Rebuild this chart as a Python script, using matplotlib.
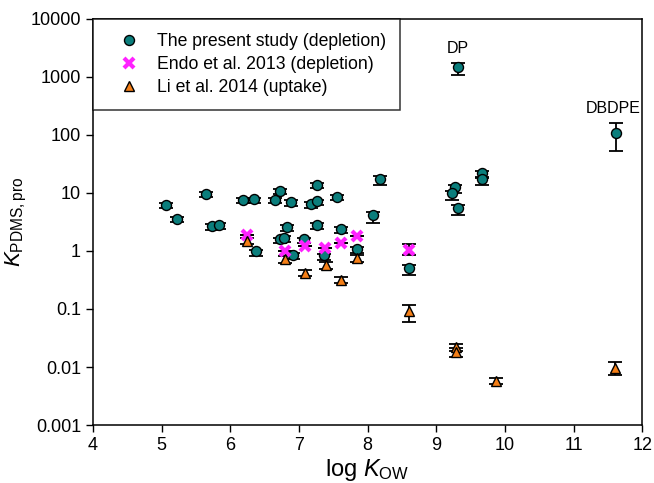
import numpy as np
import matplotlib
matplotlib.use('Agg')
import matplotlib.pyplot as plt
from matplotlib.ticker import FixedLocator, FixedFormatter, NullLocator

plt.rcParams['font.family'] = ['Liberation Sans', 'DejaVu Sans']
plt.rcParams['mathtext.fontset'] = 'custom'
plt.rcParams['mathtext.rm'] = 'Liberation Sans'
plt.rcParams['mathtext.it'] = 'Liberation Sans:italic'

# dane
teal_x = [5.07, 5.23, 5.65, 5.74, 5.83, 6.19, 6.35, 6.65, 6.73, 6.88, 6.82, 6.73,
          6.79, 6.37, 6.91, 7.26, 7.17, 7.26, 7.55, 8.18, 8.08, 7.26, 7.62, 7.08,
          7.36, 7.85, 8.61, 9.31, 11.62, 9.66, 9.66, 9.28, 9.23, 9.31]
teal_y = [6.3, 3.6, 9.6, 2.7, 2.8, 7.6, 7.8, 7.6, 10.8, 7.0, 2.6, 1.6,
          1.7, 0.98, 0.85, 13.8, 6.5, 7.2, 8.6, 17.2, 4.2, 2.8, 2.4, 1.6,
          0.84, 1.07, 0.50, 1500, 107, 22, 17.5, 12.5, 10.0, 5.6]
teal_lo = [0.8, 0.5, 1.2, 0.4, 0.4, 1.0, 1.0, 1.0, 1.4, 1.0, 0.4, 0.25,
           0.25, 0.15, 0.13, 1.8, 0.9, 1.0, 1.1, 3.5, 1.2, 0.4, 0.35, 0.25,
           0.13, 0.16, 0.12, 420, 55, 4.0, 4.0, 2.5, 2.5, 1.5]
teal_hi = [0.4, 0.3, 0.6, 0.2, 0.2, 0.5, 0.5, 0.5, 0.7, 0.5, 0.2, 0.1,
           0.1, 0.07, 0.06, 0.9, 0.5, 0.5, 0.6, 2.0, 0.5, 0.2, 0.2, 0.1,
           0.06, 0.08, 0.08, 250, 55, 1.5, 1.5, 1.0, 1.0, 0.6]

endo_x = [6.24, 6.80, 7.09, 7.38, 7.62, 7.85, 8.61]
endo_y = [1.9, 1.0, 1.23, 1.12, 1.35, 1.8, 1.05]
endo_lo = [0.0, 0.0, 0.0, 0.0, 0.0, 0.0, 0.2]
endo_hi = [0.0, 0.0, 0.0, 0.0, 0.0, 0.0, 0.25]

li_x = [6.24, 6.80, 7.09, 7.39, 7.62, 7.85, 8.61, 9.29, 9.29, 9.87, 11.61]
li_y = [1.5, 0.72, 0.42, 0.57, 0.32, 0.75, 0.092, 0.022, 0.018, 0.0058, 0.0098]
li_lo = [0.2, 0.1, 0.05, 0.08, 0.04, 0.1, 0.032, 0.003, 0.003, 0.0007, 0.0025]
li_hi = [0.2, 0.1, 0.05, 0.08, 0.04, 0.1, 0.027, 0.003, 0.003, 0.0007, 0.0025]

etykiety = [('DP', 9.31, 3100), ('DBDPE', 11.57, 290)]

fig = plt.figure(figsize=(6.54, 4.83), dpi=100)
ax = fig.add_axes([0.142, 0.12, 0.840, 0.841])

kolor_teal = '#0b7e7c'
kolor_mag = '#ff22ff'
kolor_pom = '#f57f17'

ax.errorbar(teal_x, teal_y, yerr=[teal_lo, teal_hi], fmt='none', ecolor='black',
            elinewidth=1.3, capsize=5, capthick=1.3, zorder=2)
ax.errorbar(endo_x, endo_y, yerr=[endo_lo, endo_hi], fmt='none', ecolor='black',
            elinewidth=1.3, capsize=5, capthick=1.3, zorder=2)
ax.errorbar(li_x, li_y, yerr=[li_lo, li_hi], fmt='none', ecolor='black',
            elinewidth=1.3, capsize=5, capthick=1.3, zorder=2)

ax.plot(teal_x, teal_y, 'o', ms=7.2, mfc=kolor_teal, mec='black', mew=1.0,
        ls='none', zorder=3, label='The present study (depletion)')
ax.plot(endo_x, endo_y, 'x', ms=7.5, mec=kolor_mag, mew=3, ls='none', zorder=4,
        label='Endo et al. 2013 (depletion)')
ax.plot(li_x, li_y, '^', ms=7.2, mfc=kolor_pom, mec='black', mew=1.0,
        ls='none', zorder=5, label='Li et al. 2014 (uptake)')

for tekst, x, y in etykiety:
    ax.text(x, y, tekst, ha='center', va='center', fontsize=11.5)

ax.set_yscale('log')
ax.set_xlim(4, 12)
ax.set_ylim(0.001, 10000)
ax.set_xticks(range(4, 13))
wartosci_y = [0.001, 0.01, 0.1, 1, 10, 100, 1000, 10000]
ax.yaxis.set_major_locator(FixedLocator(wartosci_y))
ax.yaxis.set_major_formatter(FixedFormatter(['0.001', '0.01', '0.1', '1', '10', '100', '1000', '10000']))
ax.yaxis.set_minor_locator(NullLocator())
ax.tick_params(direction='out', length=5, width=1, labelsize=13)
for s in ax.spines.values():
    s.set_linewidth(1.1)

ax.set_xlabel(r'log $K_\mathrm{OW}$', fontsize=17, labelpad=2)
ax.set_ylabel(r'$K_\mathrm{PDMS,pro}$', fontsize=16, labelpad=1)

leg = ax.legend(loc='upper left', borderaxespad=0, fancybox=False, fontsize=12.7,
                handletextpad=0.35, borderpad=0.8, handlelength=2.5, labelspacing=0.35)
leg.get_frame().set_edgecolor('black')
leg.get_frame().set_linewidth(1.1)

plt.savefig('out.png', dpi=100)
